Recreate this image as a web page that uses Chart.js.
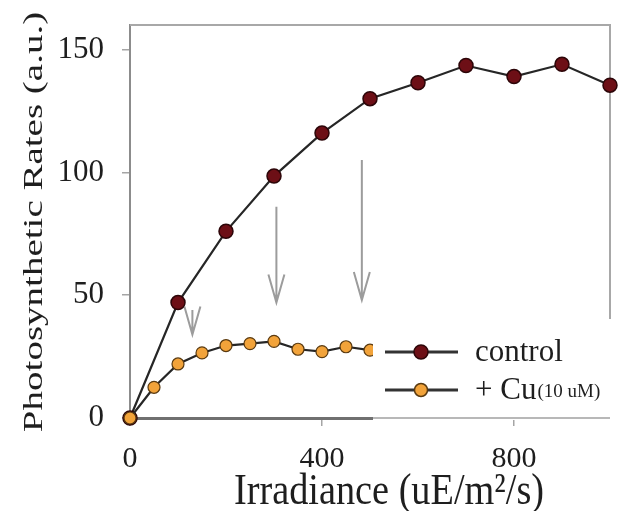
<!DOCTYPE html>
<html>
<head>
<meta charset="utf-8">
<script src="https://cdn.jsdelivr.net/npm/chart.js@4/dist/chart.umd.min.js"></script>
<style>
  html, body { margin: 0; padding: 0; background: #fff; overflow: hidden; }
  #wrap { width: 632px; height: 511px; }
</style>
</head>
<body>
<div id="wrap"><canvas id="photoChart" width="632" height="511"></canvas></div>
<script>
// data
const controlIrradiance = [0, 100, 200, 300, 400, 500, 600, 700, 800, 900, 1000];
const controlRates = [0, 47, 76, 98.5, 116, 130, 136.5, 143.5, 139, 144, 135.5];
const cuIrradiance = [0, 50, 100, 150, 200, 250, 300, 350, 400, 450, 500];
const cuRates = [0, 12.5, 22, 26.5, 29.5, 30.3, 31.2, 28, 27, 29, 27.6];
const xTickValues = [0, 400, 800];
const yTickValues = [0, 50, 100, 150];
const seriesLabels = ["control", "+ Cu"];
const cuSubscript = "(10 uM)";
// arrows: irradiance, top and tip in rate units
const arrowIrradiance = [130, 305, 483];
const arrowTop = [44, 86, 105];
const arrowTip = [34, 47, 48];

const serif = "'Liberation Serif', 'Times New Roman', serif";
const textColor = "#1e1e1e";
const controlFill = "#6d0f16";
const controlEdge = "#2c0508";
const cuFill = "#f2a33a";
const cuEdge = "#5a3a10";
const lineColor = "#262626";

function drawMarker(ctx, x, y, r, fill, edge) {
  ctx.beginPath();
  ctx.arc(x, y, r, 0, Math.PI * 2);
  ctx.fillStyle = fill;
  ctx.fill();
  ctx.lineWidth = 1.5;
  ctx.strokeStyle = edge;
  ctx.stroke();
}

const figurePlugin = {
  id: "figure",
  beforeDatasetsDraw(chart) {
    const ctx = chart.ctx;
    const area = chart.chartArea;
    const xs = chart.scales.x;
    const ys = chart.scales.y;
    ctx.save();
    // top and (partial) right frame
    ctx.strokeStyle = "#a8a8a8";
    ctx.lineWidth = 2;
    ctx.beginPath();
    ctx.moveTo(area.left, area.top);
    ctx.lineTo(area.right, area.top);
    ctx.lineTo(area.right, 319);
    ctx.stroke();
    // arrows
    ctx.strokeStyle = "#9c9c9c";
    ctx.lineWidth = 2;
    arrowIrradiance.forEach((v, i) => {
      const x = xs.getPixelForValue(v);
      const y0 = ys.getPixelForValue(arrowTop[i]);
      const y1 = ys.getPixelForValue(arrowTip[i]);
      ctx.beginPath();
      ctx.moveTo(x, y0);
      ctx.lineTo(x, y1);
      ctx.moveTo(x - 8, y1 - 28);
      ctx.lineTo(x, y1);
      ctx.lineTo(x + 8, y1 - 28);
      ctx.stroke();
    });
    ctx.restore();
  },
  afterDatasetsDraw(chart) {
    const ctx = chart.ctx;
    const area = chart.chartArea;
    ctx.save();
    // legend box hides the end of the Cu curve and part of the axis
    ctx.fillStyle = "#fff";
    ctx.fillRect(373, 320, area.right + 4 - 373, area.bottom + 2 - 320);
    ctx.strokeStyle = "#b8b8b8";
    ctx.lineWidth = 2;
    ctx.beginPath();
    ctx.moveTo(373, area.bottom);
    ctx.lineTo(area.right, area.bottom);
    ctx.stroke();

    const rows = [
      { y: 352, fill: controlFill, edge: controlEdge, r: 7 },
      { y: 390, fill: cuFill, edge: cuEdge, r: 6.5 },
    ];
    rows.forEach((row) => {
      ctx.strokeStyle = "#333";
      ctx.lineWidth = 3;
      ctx.beginPath();
      ctx.moveTo(385, row.y);
      ctx.lineTo(458, row.y);
      ctx.stroke();
      drawMarker(ctx, 421, row.y, row.r, row.fill, row.edge);
    });
    ctx.fillStyle = textColor;
    ctx.textAlign = "left";
    ctx.textBaseline = "alphabetic";
    ctx.font = "31px " + serif;
    ctx.fillText(seriesLabels[0], 475, 361);
    ctx.fillText(seriesLabels[1], 475, 399);
    const w = ctx.measureText(seriesLabels[1]).width;
    ctx.font = "19px " + serif;
    ctx.fillText(cuSubscript, 475 + w + 1, 397);
    ctx.restore();
  },
  afterDraw(chart) {
    const ctx = chart.ctx;
    ctx.save();
    ctx.fillStyle = textColor;
    ctx.textBaseline = "alphabetic";
    ctx.textAlign = "center";
    // x title
    ctx.font = "44px " + serif;
    ctx.translate(389, 504);
    ctx.scale(0.87, 1);
    ctx.fillText("Irradiance (uE/m\u00B2/s)", 0, 0);
    ctx.setTransform(1, 0, 0, 1, 0, 0);
    // y title
    ctx.font = "39px " + serif;
    ctx.translate(42, 222);
    ctx.rotate(-Math.PI / 2);
    ctx.scale(1, 0.72);
    ctx.fillText("Photosynthetic Rates (a.u.)", 0, 0);
    ctx.restore();
  },
};

new Chart(document.getElementById("photoChart"), {
  type: "line",
  data: {
    datasets: [
      {
        label: seriesLabels[0],
        data: controlIrradiance.map((x, i) => ({ x: x, y: controlRates[i] })),
        borderColor: lineColor,
        borderWidth: 2.2,
        pointRadius: 7,
        pointBackgroundColor: controlFill,
        pointBorderColor: controlEdge,
        pointBorderWidth: 1.5,
        tension: 0,
        clip: false,
        order: 1,
      },
      {
        label: seriesLabels[1] + cuSubscript,
        data: cuIrradiance.map((x, i) => ({ x: x, y: cuRates[i] })),
        borderColor: lineColor,
        borderWidth: 2.2,
        pointRadius: 6,
        pointBackgroundColor: cuFill,
        pointBorderColor: cuEdge,
        pointBorderWidth: 1.2,
        tension: 0,
        clip: false,
        order: 0,
      },
    ],
  },
  options: {
    responsive: false,
    animation: false,
    devicePixelRatio: 1,
    layout: { padding: { top: 25, right: 22, left: 0, bottom: 0 } },
    plugins: { legend: { display: false }, tooltip: { enabled: false } },
    scales: {
      x: {
        type: "linear",
        min: 0,
        max: 1000,
        afterBuildTicks: (scale) => {
          scale.ticks = xTickValues.map((v) => ({ value: v }));
        },
        afterFit: (scale) => {
          scale.height = 93;
          scale.paddingLeft = 0;
          scale.paddingRight = 0;
        },
        grid: { display: true, drawOnChartArea: false, drawTicks: true, tickLength: 8, color: "#a5a5a5", lineWidth: 1.5 },
        border: { display: true, color: "#707070", width: 3 },
        ticks: { font: { family: serif, size: 30 }, color: textColor, padding: 15, maxRotation: 0, autoSkip: false },
      },
      y: {
        min: 0,
        max: 160,
        afterBuildTicks: (scale) => {
          scale.ticks = yTickValues.map((v) => ({ value: v }));
        },
        afterFit: (scale) => {
          scale.width = 130;
          scale.paddingTop = 0;
          scale.paddingBottom = 0;
        },
        grid: { display: true, drawOnChartArea: false, drawTicks: true, tickLength: 8, color: "#a5a5a5", lineWidth: 1.5 },
        border: { display: true, color: "#8c8c8c", width: 2 },
        ticks: { font: { family: serif, size: 31 }, color: textColor, padding: 18, autoSkip: false },
      },
    },
  },
  plugins: [figurePlugin],
});
</script>
</body>
</html>
